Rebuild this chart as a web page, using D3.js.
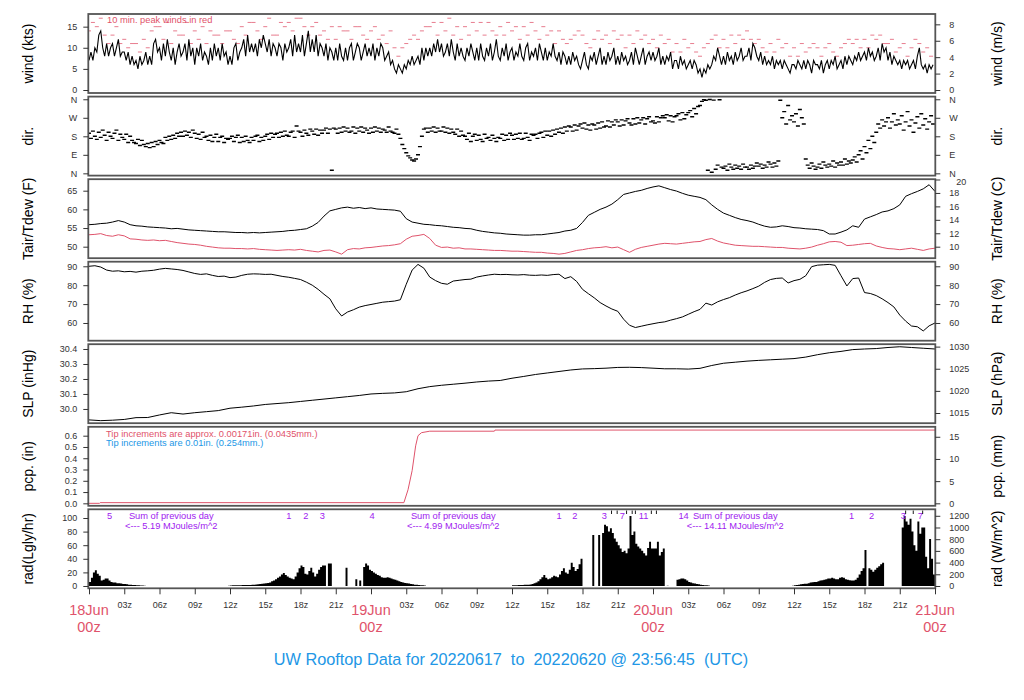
<!DOCTYPE html>
<html><head><meta charset="utf-8">
<script src="https://cdn.jsdelivr.net/npm/d3@7"></script>
<style>
body{margin:0;background:#fff}
svg{font-family:"Liberation Sans",Arial,Helvetica,sans-serif}
</style></head>
<body><svg id="c" width="1024" height="700"></svg>
<script>
// ---------------- DATA ----------------
const startUTC = Date.UTC(2022,5,18,0,0,0);
// wind speed (kts), 10-minute samples
const windKts = [7,9,7,10,9,13, 14,10,8,11,8,10, 11,8,10,12,8,9, 9,7,9,6,8,6, 7,5,8,6,7,9, 6,8,6,11,12,9,
 10,7,11,8,12,9, 7,10,6,9,11,8, 9,11,7,12,8,10, 6,10,8,11,7,9, 8,6,10,7,11,8, 10,7,11,8,9,6,
 8,6,10,11,7,9, 10,12,8,13,9,11, 9,11,8,12,10,13, 11,9,12,8,11,10, 8,11,10,7,11,9, 10,12,8,13,9,11,
 9,13,8,11,14,9, 12,9,13,8,11,10, 8,11,7,10,9,7, 10,7,11,8,7,10, 7,10,11,7,9,11, 10,7,9,11,8,10,
 8,11,7,10,8,11, 10,7,8,9,6,7, 5,4,6,5,4,6, 5,7,6,8,6,7, 8,6,10,7,10,8, 10,8,11,9,12,9,
 11,8,9,11,8,12, 9,7,11,8,10,8, 7,10,8,11,9,7, 10,7,11,8,7,10, 8,11,7,9,12,8, 7,10,8,11,7,9,
 10,7,9,8,11,8, 7,10,11,7,9,8, 10,7,11,9,7,10, 7,9,8,11,8,7, 9,6,9,8,6,8, 6,9,7,8,6,5,
 7,9,6,5,8,7, 9,6,8,10,6,8, 6,9,7,8,10,6, 8,6,9,7,8,6, 7,9,6,10,8,6, 8,10,6,8,9,7,
 9,7,8,10,6,8, 6,8,7,9,5,7, 7,5,8,6,7,5, 6,7,5,7,6,4, 5,3,5,4,6,5, 6,8,7,10,8,6,
 8,6,9,7,8,6, 9,7,8,10,7,8, 8,10,7,11,10,8, 7,9,6,8,6,7, 6,8,5,7,6,7, 5,7,6,5,4,6,
 6,5,7,6,5,7, 5,7,6,4,7,6, 6,5,7,4,6,7, 5,7,6,8,5,6, 7,5,8,6,8,7, 6,8,7,9,7,8,
 9,7,10,8,9,7, 8,10,7,11,9,10, 7,9,6,8,7,6, 7,5,7,6,7,5, 6,7,5,8,10,6, 5,6,4,6,5,6];
// 10-min peak winds (kts), 20-minute samples
const gustKts = [14,16,15, 17,13,11, 13,15,11, 12,10,11, 11,9,12, 10,14,15,
 15,12,16, 11,14,13, 13,16,11, 14,12,15, 11,14,13, 13,11,14,
 14,12,11, 15,13,16, 16,14,12, 15,17,13, 13,16,15, 16,14,17,
 17,15,13, 15,16,13, 14,12,15, 12,15,14, 14,12,15, 15,13,12,
 14,15,12, 13,11,14, 10,8,10, 11,12,13, 12,14,15, 15,16,13,
 16,14,17, 13,15,12, 15,13,16, 14,16,13, 16,14,13, 15,13,16,
 14,15,12, 15,13,16, 14,12,15, 13,14,11, 14,12,11, 12,13,14,
 13,11,10, 12,14,12, 13,11,14, 12,13,10, 13,11,14, 12,13,11,
 12,10,13, 11,12,9, 11,9,12, 10,11,9, 8,10,11, 12,13,10,
 12,10,13, 11,13,12, 14,12,11, 12,10,9, 11,9,12, 10,11,8,
 10,8,11, 9,10,11, 10,8,10, 11,9,8, 10,11,12, 11,12,10,
 12,10,13, 12,13,11, 11,12,9, 10,11,8, 10,12,11, 9,10,8];
// wind direction (deg), 10-minute samples
const dirDeg = [195,170,205,180,165,200, 175,210,185,160,200,180, 170,195,210,160,190,175, 165,190,150,180,160,150,
 145,165,135,160,140,130, 145,125,150,130,155,140, 160,150,145,175,160,180, 165,185,170,195,180,200,
 180,205,185,200,175,210, 195,170,190,165,200,175, 180,160,185,155,175,190, 155,175,180,150,170,165,
 170,180,155,175,185,150, 175,155,180,160,150,175, 160,180,185,155,175,160, 180,190,165,195,175,190,
 195,175,200,180,205,185, 180,200,205,175,230,205, 200,180,210,195,185,215, 205,190,215,185,210,195,
 210,220,195,215,15,220, 215,195,220,200,225,205, 220,200,205,225,195,220, 205,225,200,220,210,195,
 220,200,225,205,220,200, 215,210,200,225,205,200, 195,215,190,170,140,120, 100,85,75,65,60,70,
 90,130,180,215,220,200, 220,205,225,200,220,205, 205,225,200,220,195,215, 200,190,215,180,205,185,
 180,165,195,155,180,190, 160,185,165,155,190,170, 175,160,185,170,155,175, 170,190,160,185,165,195,
 185,165,190,170,195,165, 170,195,175,160,190,185, 190,170,195,200,175,205, 185,205,180,210,190,215,
 200,220,195,225,205,230, 225,205,235,210,230,240, 220,245,215,235,210,240, 235,215,245,220,250,225,
 230,255,225,250,235,260, 250,230,260,235,255,265, 245,235,265,240,270,245, 260,270,240,265,275,250,
 255,245,275,250,270,280, 270,285,255,280,250,275, 280,290,260,295,265,285, 295,305,275,315,290,325,
 330,350,358,355,15,359, 5,356,20,40,358,30, 25,35,15,45,30,20, 40,25,35,20,45,30,
 30,20,40,25,35,50, 35,45,25,40,30,55, 45,30,50,35,60,355, 270,300,240,330,260,280,
 250,290,230,310,270,240, 70,40,25,50,35,20, 30,45,25,55,40,30, 45,35,60,30,50,40,
 55,40,70,45,60,50, 65,80,55,90,110,70, 130,100,160,120,180,150, 200,240,220,260,230,250,
 270,220,250,290,235,260, 240,280,210,250,300,230, 260,200,245,275,220,290, 235,265,215,250,280,240];
// air temperature / dewpoint (F), relative humidity (%), 30-minute samples
const tairF = [55.9,56.0,56.2,56.3,56.6,57.0,56.6,55.9,55.6,55.5, 55.3,55.2,55.1,55.0,54.8,54.9,54.7,54.5,54.4,54.3,
 54.2,54.1,54.0,54.0,53.9,53.8,53.8,53.7,53.8,53.7, 53.8,53.9,54.0,54.1,54.3,54.4,54.6,54.8,55.5,56.5,
 58.2,59.6,60.0,60.4,60.6,60.3,60.5,60.2,60.4,60.1, 60.0,59.9,59.8,59.5,57.5,56.6,56.3,56.0,55.9,55.7,
 55.6,55.4,55.2,55.1,54.9,54.8,54.4,54.1,53.9,53.7, 53.6,53.4,53.3,53.2,53.1,53.1,53.2,53.2,53.4,53.6,
 53.8,54.2,54.4,54.9,56.5,58.4,59.2,60.0,60.6,61.4, 62.6,64.0,64.4,64.8,65.1,65.6,66.0,66.3,65.8,65.3,
 64.9,64.3,63.8,63.5,63.2,62.6,61.2,60.0,59.0,58.4, 57.8,57.3,57.0,56.6,56.0,55.5,55.2,55.3,55.6,55.4,
 55.1,55.0,54.8,54.7,54.6,54.3,53.4,53.4,53.9,54.5, 55.6,55.2,57.4,58.0,58.6,59.3,59.6,60.2,61.2,63.5,
 64.2,64.8,65.5,66.6,64.8];
const tdewF = [53.2,53.3,53.5,53.0,52.8,53.2,52.9,52.1,52.0,51.8, 51.7,51.8,51.6,51.7,51.4,51.1,50.9,50.7,50.6,50.4,
 50.1,49.9,49.7,49.6,49.6,49.5,49.5,49.4,49.5,49.3, 49.2,49.1,49.0,49.1,49.2,49.1,49.3,49.0,48.8,48.6,
 49.0,49.1,48.6,48.0,49.2,49.5,49.4,49.7,49.8,50.0, 50.2,50.3,50.5,50.8,52.0,52.8,53.0,53.3,52.2,50.4,
 49.8,49.9,49.6,49.7,49.4,49.4,49.3,49.2,49.1,49.0, 49.0,48.9,48.8,48.8,48.7,48.6,48.5,48.5,48.3,48.2,
 48.0,48.2,48.6,49.0,49.2,49.5,49.7,49.8,50.0,49.7, 49.9,49.2,48.5,49.3,49.8,50.1,50.4,50.7,50.9,50.8,
 50.7,50.9,51.1,51.3,51.4,51.9,52.2,51.5,51.0,50.7, 50.4,50.3,50.2,50.1,50.1,50.0,49.9,49.8,49.8,49.6,
 49.5,49.4,49.6,49.9,50.4,50.8,51.3,51.4,51.2,50.3, 50.4,50.6,50.8,50.9,50.2,49.8,49.5,49.4,49.2,49.4,
 49.6,49.3,49.0,49.4,49.6];
const rhPct = [90.0,90.3,89.6,88.0,87.4,87.6,87.1,87.3,86.9,87.4, 87.6,87.9,88.5,88.9,88.6,88.3,87.8,87.0,86.2,85.7,
 86.0,85.2,84.6,84.8,84.0,84.3,85.2,85.8,86.0,85.9, 85.7,85.8,85.2,84.6,84.2,83.6,83.0,81.6,80.0,77.8,
 75.2,72.8,67.5,63.7,65.8,67.0,68.4,69.2,69.8,70.4, 71.0,71.3,71.6,72.3,80.5,88.0,91.0,89.0,84.3,82.4,
 81.0,80.5,82.2,82.6,83.0,83.2,84.3,84.9,85.4,85.8, 85.6,85.7,85.5,85.4,85.6,85.3,85.2,85.4,85.2,85.6,
 85.8,83.5,84.5,82.0,77.8,75.5,73.3,70.8,69.0,67.4, 66.2,62.0,58.8,57.6,58.3,59.0,59.6,60.2,60.6,61.5,
 62.3,63.2,64.6,66.0,67.2,70.5,69.5,71.2,72.4,73.4, 74.8,76.0,77.0,78.2,79.5,81.5,83.0,83.6,83.8,81.2,
 82.4,83.1,85.0,89.8,90.6,90.8,91.0,90.5,85.0,79.6, 83.5,83.8,76.1,75.6,74.5,72.8,70.8,68.5,64.2,61.0,
 58.4,58.0,55.8,58.5,60.0];
// sea level pressure (inHg), hourly
const slpInHg = [29.927,29.922,29.925,29.930,29.942,29.943,29.960,29.975,29.966,29.975,
 29.982,29.989,30.005,30.012,30.020,30.030,30.036,30.042,30.050,30.058,
 30.066,30.074,30.082,30.090,30.100,30.104,30.107,30.115,30.135,30.149,
 30.158,30.165,30.172,30.180,30.186,30.190,30.205,30.217,30.230,30.240,
 30.250,30.260,30.267,30.269,30.272,30.277,30.278,30.276,30.272,30.268,
 30.268,30.266,30.271,30.290,30.305,30.312,30.319,30.324,30.328,30.332,
 30.336,30.346,30.362,30.375,30.384,30.396,30.400,30.403,30.410,30.415,
 30.410,30.405,30.400];
// accumulated precipitation (in) at hours after start
const pcpHours = [0,0.9,0.95,26.8,27.15,27.5,27.8,28.0,28.3,29.0,34.5,34.55,72];
const pcpIn    = [0,0,0.006,0.006,0.12,0.29,0.51,0.60,0.627,0.64,0.64,0.65,0.65];
// solar radiation (Langley/hr), 10-minute samples
const radLy = [6,12,20,23,18,15, 8,9,11,11,8,6, 5,5,4,4,3.5,3, 3,2.5,2,2,1.5,1.5, 1.2,1,0.8,0.6,0.4,0,
 0,0,0,0,0,0, 0,0,0,0,0,0, 0,0,0,0,0,0, 0,0,0,0,0,0, 0,0,0,0,0,0, 0,0,0,0,0,0,
 0,0,0,0,0,0.5, 0.8,1,1,1,1.2,1.2, 1.3,1.4,1.5,1.5,1.6,1.7, 2,2.2,2.5,3,3.3,3.5, 4,4.5,5,7,8,10,
 12,14,17,19,16,14, 12,11,10,14,20,26, 30,28,18,17,22,27, 20,14,18,24,28,30, 30,0,33,33,0,0,
 0,0,0,0,0,27, 0,0,0,0,10,0, 8,0,28,33,30,24, 22,20,18,16,15,13, 12,12,13,12,11,10,
 9,8,7,6,5,4.5, 4,3.5,3,2.5,2,1.8, 1.5,1.2,1,0.6,0,0,
 0,0,0,0,0,0, 0,0,0,0,0,0, 0,0,0,0,0,0, 0,0,0,0,0,0, 0,0,0,0,0,0, 0,0,0,0,0,0, 0,0,0,0,0,0,
 1,1,1.2,1.3,1.5,1.6, 1.8,2,2,2.2,3,4, 5,7,10,13,16,12, 10,11,13,15,14,13, 17,22,26,20,18,24,
 34,28,22,25,32,40, 0,0,0,0,0,75, 0,0,75,0,78,90, 88,80,85,78,70,65, 60,55,50,52,48,55,
 103,75,80,62,58,55, 52,48,45,56,65,55, 55,55,65,45,50,55, 0,0.5,0,0,0,0, 9,10,11,11,10,8,
 6,5,4,3.5,3,2.5, 2,1.5,1.2,1,0.7,0,
 0,0,0,0,0,0, 0,0,0,0,0,0, 0,0,0,0,0,0, 0,0,0,0,0,0, 0,0,0,0,0,0, 0,0,0,0,0,0,
 0,0,0,0,0,0.5, 1,1.5,2,2.5,3,3.4, 3.4,4,5,5.5,6,6, 7,8,8.6,9,10,11, 11,12,11,10,10,12,
 13,12,10,9,8.6,8, 8,9,12,17,22,26, 53,0,26,24,21,24, 27,29,32,34,0,0, 0,0,0,0,0,0,
 0,86,103,95,90,99, 80,60,52,95,77,86, 86,43,26,69,40,17];
// rad panel annotations
const radMarkHours  = [1.75,17.0,18.45,19.85,24.1,40.0,41.35,43.85,45.4,47.2,50.6,64.9,66.6,69.3,70.75];
const radMarkLabels = ["5","1","2","3","4","1","2","3","7","11","14","1","2","3","7"];
const radTickHours  = [44.47,44.95,45.75,46.23,46.5,47.86,48.29,69.5,70.15,70.95];
const sumHours = [7,31,55];
const sumMJ    = ["5.19","4.99","14.11"];
// axis ticks
const timeTickHours = d3.range(0,73,3);
const dayLabels = ["18Jun","19Jun","20Jun","21Jun"];
const windTicksKts = [0,5,10,15], windTicksMs = [0,2,4,6,8];
const dirTicks = [0,90,180,270,360], dirLabels = ["N","E","S","W","N"];
const tempTicksF = [50,55,60,65], tempTicksC = [10,12,14,16,18,20];
const rhTicks = [60,70,80,90];
const slpTicksIn = [30.0,30.1,30.2,30.3,30.4], slpTicksHpa = [1015,1020,1025,1030];
const pcpTicksIn = [0,0.1,0.2,0.3,0.4,0.5,0.6], pcpTicksMm = [0,5,10,15];
const radTicksLy = [0,20,40,60,80,100], radTicksW = [0,200,400,600,800,1000,1200];

// ---------------- CHART ----------------
const RED="#DF536B", BLUE="#2297E6", PURPLE="#A020F0";
const svg = d3.select("#c");
const HMS = 3600e3;
const x = d3.scaleUtc().domain([new Date(startUTC), new Date(startUTC+72*HMS)]).range([89,935]);
const L = 88.3, R = 935.3, PH = 79;
const tops = [14,96.6,179.2,261.7,344.2,426.8,509.3];
function ser(vals, stepMin){ return vals.map((v,i)=>({t:new Date(startUTC+i*stepMin*60e3), v})); }
function yS(i, dom){ return d3.scaleLinear().domain(dom).range([tops[i]+PH, tops[i]]); }

const yWind = yS(0,[-0.71,18.0]);
const yDir  = yS(1,[-11,373]);
const yTemp = yS(2,[46.92,68.08]);
const yRH   = yS(3,[50.63,92.43]);
const ySLP  = yS(4,[29.905,30.432]);
const yPcp  = yS(5,[-0.022,0.679]);
const yRad  = yS(6,[-3.4,112.8]);

const defs = svg.append("defs");
tops.forEach((t,i)=>{
  defs.append("clipPath").attr("id","cp"+i).append("rect").attr("x",L).attr("y",t).attr("width",R-L).attr("height",PH);
});
function layer(i){ return svg.append("g").attr("clip-path",`url(#cp${i})`); }

// wind
const gw = layer(0);
gw.selectAll("line.g").data(ser(gustKts,20)).enter().append("line")
  .attr("x1",d=>x(d.t)-2).attr("x2",d=>x(d.t)+2).attr("y1",d=>yWind(d.v)).attr("y2",d=>yWind(d.v))
  .attr("stroke",RED).attr("stroke-opacity",0.85).attr("stroke-width",0.9);
gw.append("path").datum(ser(windKts,10)).attr("fill","none").attr("stroke","#000").attr("stroke-width",1.1)
  .attr("d",d3.line().x(d=>x(d.t)).y(d=>yWind(d.v)));
svg.append("text").attr("x",107).attr("y",23).attr("font-size",9.3).attr("fill",RED).text("10 min. peak winds in red");

// direction
const gd = layer(1);
gd.selectAll("line").data(ser(dirDeg,10)).enter().append("line")
  .attr("x1",d=>x(d.t)-2).attr("x2",d=>x(d.t)+2).attr("y1",d=>yDir(d.v)).attr("y2",d=>yDir(d.v))
  .attr("stroke","#000").attr("stroke-width",1.4);

// temperature
const gt = layer(2);
gt.append("path").datum(ser(tdewF,30)).attr("fill","none").attr("stroke",RED).attr("stroke-width",1)
  .attr("d",d3.line().x(d=>x(d.t)).y(d=>yTemp(d.v)));
gt.append("path").datum(ser(tairF,30)).attr("fill","none").attr("stroke","#000").attr("stroke-width",1)
  .attr("d",d3.line().x(d=>x(d.t)).y(d=>yTemp(d.v)));

// RH
layer(3).append("path").datum(ser(rhPct,30)).attr("fill","none").attr("stroke","#000").attr("stroke-width",1)
  .attr("d",d3.line().x(d=>x(d.t)).y(d=>yRH(d.v)));
// SLP
layer(4).append("path").datum(ser(slpInHg,60)).attr("fill","none").attr("stroke","#000").attr("stroke-width",1)
  .attr("d",d3.line().x(d=>x(d.t)).y(d=>ySLP(d.v)));
// precip
layer(5).append("path").datum(pcpHours.map((h,i)=>({t:new Date(startUTC+h*HMS), v:pcpIn[i]})))
  .attr("fill","none").attr("stroke",RED).attr("stroke-width",1)
  .attr("d",d3.line().x(d=>x(d.t)).y(d=>yPcp(d.v)));
svg.append("text").attr("x",106).attr("y",437).attr("font-size",9.3).attr("fill",RED).text("Tip increments are approx. 0.00171in. (0.0435mm.)");
svg.append("text").attr("x",106).attr("y",445.5).attr("font-size",9.3).attr("fill",BLUE).text("Tip increments are 0.01in. (0.254mm.)");

// radiation
const radData = ser(radLy,10); radData.push({t:new Date(startUTC+72*HMS), v:0});
layer(6).append("path").datum(radData).attr("fill","#000").attr("stroke","none")
  .attr("d",d3.area().curve(d3.curveStepAfter).x(d=>x(d.t)).y0(yRad(0)).y1(d=>yRad(d.v)));
const gr = svg.append("g");
radMarkHours.forEach((h,i)=>{
  gr.append("text").attr("x",x(new Date(startUTC+h*HMS))).attr("y",518.5).attr("text-anchor","middle")
    .attr("font-size",9.3).attr("fill",PURPLE).text(radMarkLabels[i]);
});
radTickHours.forEach(h=>{
  const xx = x(new Date(startUTC+h*HMS));
  gr.append("line").attr("x1",xx).attr("x2",xx).attr("y1",510.5).attr("y2",514).attr("stroke","#000").attr("stroke-width",0.9);
});
sumHours.forEach((h,i)=>{
  const xx = x(new Date(startUTC+h*HMS));
  gr.append("text").attr("x",xx).attr("y",518.5).attr("text-anchor","middle").attr("font-size",9.3).attr("fill",PURPLE).text("Sum of previous day");
  gr.append("text").attr("x",xx).attr("y",528.5).attr("text-anchor","middle").attr("font-size",9.3).attr("fill",PURPLE).text("<--- "+sumMJ[i]+" MJoules/m^2");
});

// frames
tops.forEach(t=>{
  svg.append("rect").attr("x",L).attr("y",t).attr("width",R-L).attr("height",PH)
    .attr("fill","none").attr("stroke","#555").attr("stroke-width",1.8);
});

// axes
function axisStyle(g){
  g.select(".domain").remove();
  g.selectAll(".tick line").attr("stroke","#333");
  g.selectAll(".tick text").attr("font-size",9).attr("fill","#333").attr("font-family",null);
}
function leftAx(scale, ticks, fmt){
  svg.append("g").attr("transform",`translate(${L},0)`)
    .call(d3.axisLeft(scale).tickValues(ticks).tickFormat(fmt).tickSize(5).tickPadding(6)).call(axisStyle);
}
function rightAx(scale, ticks, fmt){
  return svg.append("g").attr("transform",`translate(${R},0)`)
    .call(d3.axisRight(scale).tickValues(ticks).tickFormat(fmt).tickSize(5).tickPadding(9)).call(axisStyle);
}
const derived = (y, f) => d3.scaleLinear().domain(y.domain().map(f)).range(y.range());
leftAx(yWind, windTicksKts, d3.format("d"));
rightAx(derived(yWind, k=>k*0.514444), windTicksMs, d3.format("d"));
leftAx(yDir, dirTicks, (d,i)=>dirLabels[i]);
rightAx(yDir, dirTicks, (d,i)=>dirLabels[i]);
leftAx(yTemp, tempTicksF, d3.format("d"));
const tc = rightAx(derived(yTemp, f=>(f-32)/1.8), tempTicksC, d3.format("d"));
tc.selectAll(".tick text").filter(d=>d===20).attr("dx",7).attr("dy","0.55em");
leftAx(yRH, rhTicks, d3.format("d"));
rightAx(yRH, rhTicks, d3.format("d"));
leftAx(ySLP, slpTicksIn, d3.format(".1f"));
rightAx(derived(ySLP, p=>p/0.02953), slpTicksHpa, d3.format("d"));
leftAx(yPcp, pcpTicksIn, d3.format(".1f"));
rightAx(derived(yPcp, p=>p*25.4), pcpTicksMm, d3.format("d"));
leftAx(yRad, radTicksLy, d3.format("d"));
rightAx(derived(yRad, r=>r*11.622), radTicksW, d3.format("d"));

// time axis
svg.append("g").attr("transform",`translate(0,${tops[6]+PH})`)
  .call(d3.axisBottom(x).tickValues(timeTickHours.map(h=>new Date(startUTC+h*HMS))).tickSize(6).tickPadding(7)
    .tickFormat((d,i)=> timeTickHours[i]%24===0 ? "" : d3.utcFormat("%H")(d)+"z"))
  .call(axisStyle);
timeTickHours.filter(h=>h%24===0).forEach((h,i)=>{
  const xx = x(new Date(startUTC+h*HMS));
  svg.append("text").attr("x",xx).attr("y",615).attr("text-anchor","middle").attr("font-size",14.5).attr("fill",RED).text(dayLabels[i]);
  svg.append("text").attr("x",xx).attr("y",632).attr("text-anchor","middle").attr("font-size",14.5).attr("fill",RED).text("00z");
});

// axis titles
const leftT = ["wind (kts)","dir.","Tair/Tdew (F)","RH (%)","SLP (inHg)","pcp. (in)","rad(Lgly/hr)"];
const rightT = ["wind (m/s)","dir.","Tair/Tdew (C)","RH (%)","SLP (hPa)","pcp. (mm)","rad (W/m^2)"];
tops.forEach((t,i)=>{
  const cy = t+PH/2;
  svg.append("text").attr("transform",`translate(33,${cy}) rotate(-90)`).attr("text-anchor","middle")
    .attr("font-size",14).attr("fill","#000").text(leftT[i]);
  svg.append("text").attr("transform",`translate(1002,${cy}) rotate(-90)`).attr("text-anchor","middle")
    .attr("font-size",14).attr("fill","#000").text(rightT[i]);
});

// title
svg.append("text").attr("x",511).attr("y",665).attr("text-anchor","middle").attr("font-size",16.3)
  .attr("fill",BLUE).style("white-space","pre").text("UW Rooftop Data for 20220617  to  20220620 @ 23:56:45  (UTC)");
</script>
</body></html>
